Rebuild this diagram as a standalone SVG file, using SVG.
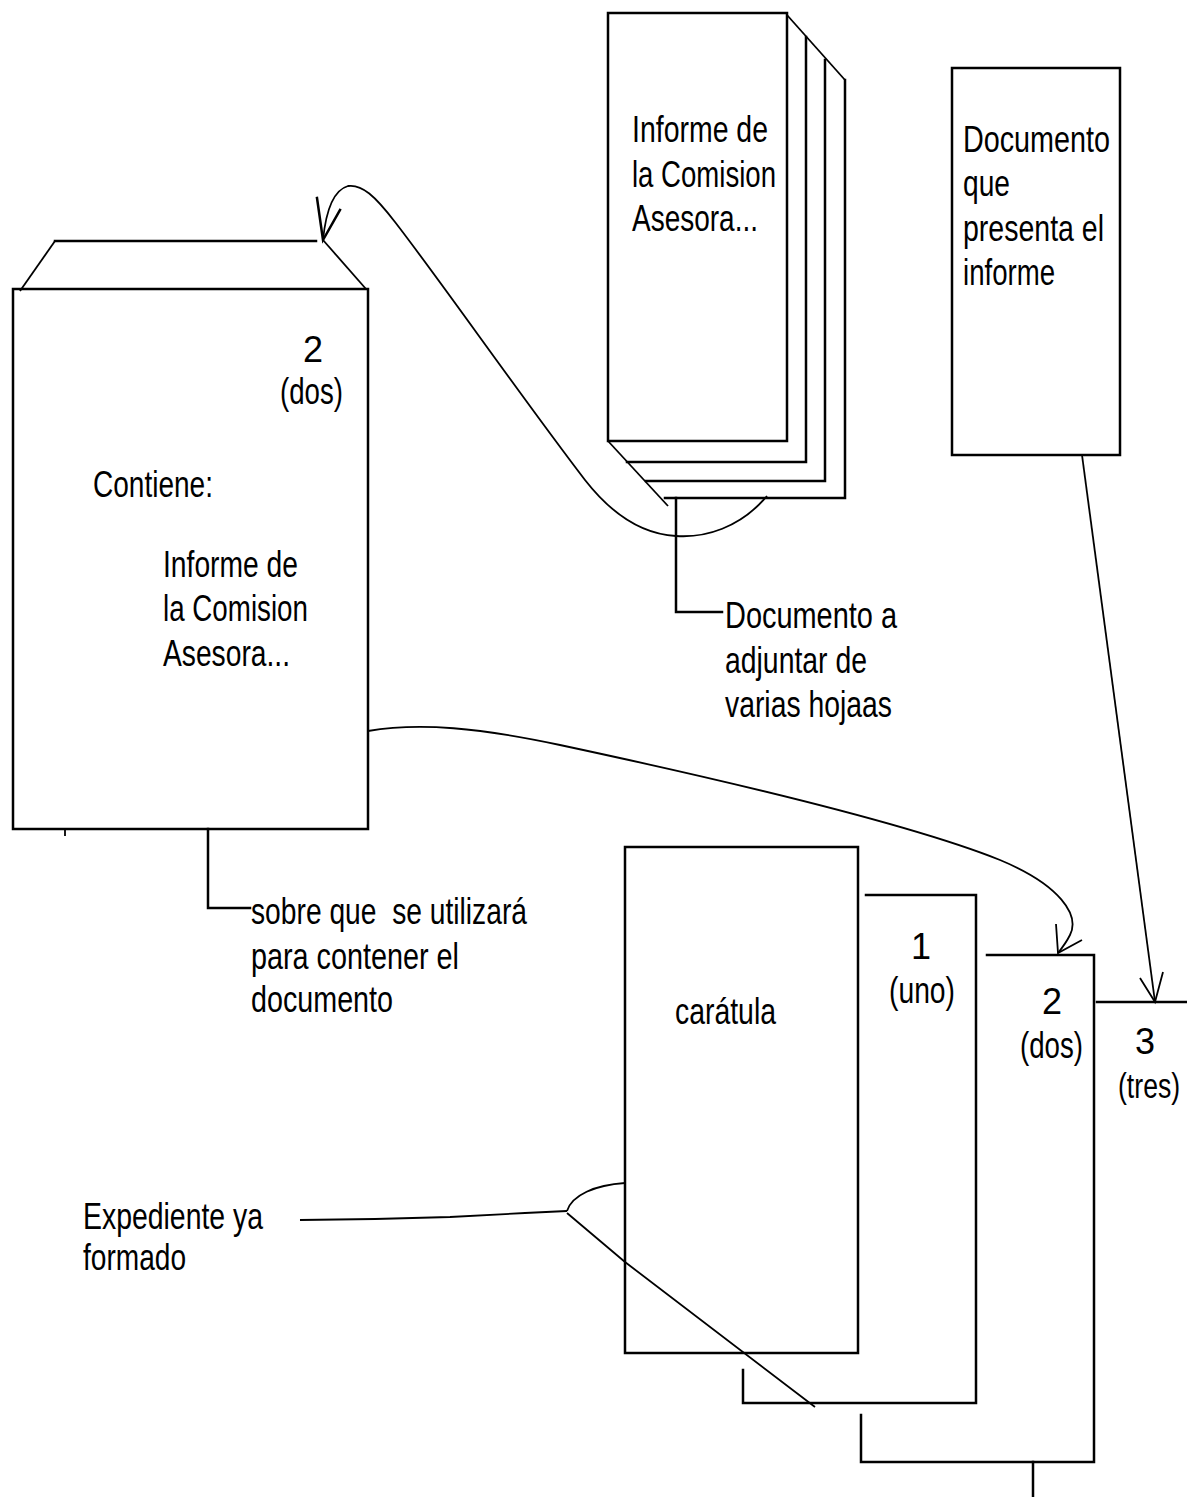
<svg xmlns="http://www.w3.org/2000/svg" width="1187" height="1497" viewBox="0 0 1187 1497">
<style>
.b{fill:none;stroke:#000;stroke-width:2.5;stroke-linecap:square}
.c{fill:none;stroke:#000;stroke-width:1.8}
.t{font-family:"Liberation Sans",Arial,sans-serif;font-size:36px;fill:#000}
</style>
<rect width="1187" height="1497" fill="#fff"/>
<g id="stack">
<path class="b" d="M608,13 H787 V441 H608 Z"/>
<path class="b" d="M806,37 V462 H627"/>
<path class="b" d="M825,60 V481 H646"/>
<path class="b" d="M845,80 V498 H665"/>
<path class="c" d="M787,15 L845,80"/>
<path class="c" d="M608,441 L668,506"/>
<text class="t" x="632" y="142" textLength="136" lengthAdjust="spacingAndGlyphs">Informe de</text>
<text class="t" x="632" y="187" textLength="144" lengthAdjust="spacingAndGlyphs">la Comision</text>
<text class="t" x="632" y="231" textLength="126" lengthAdjust="spacingAndGlyphs">Asesora...</text>
</g>
<g id="documento-informe">
<rect class="b" x="952" y="68" width="168" height="387"/>
<text class="t" x="963" y="152" textLength="147" lengthAdjust="spacingAndGlyphs">Documento</text>
<text class="t" x="963" y="196" textLength="47" lengthAdjust="spacingAndGlyphs">que</text>
<text class="t" x="963" y="241" textLength="141" lengthAdjust="spacingAndGlyphs">presenta el</text>
<text class="t" x="963" y="285" textLength="92" lengthAdjust="spacingAndGlyphs">informe</text>
</g>
<g id="sobre">
<rect class="b" x="13" y="289" width="355" height="540"/>
<path class="b" d="M55,241 H316"/>
<path class="c" d="M55,241 L20,291"/>
<path class="c" d="M323,240 L366,289"/>
<path class="c" d="M65,829 V836"/>
<text class="t" x="313" y="362" text-anchor="middle">2</text>
<text class="t" x="280" y="404" textLength="63" lengthAdjust="spacingAndGlyphs">(dos)</text>
<text class="t" x="93" y="497" textLength="120" lengthAdjust="spacingAndGlyphs">Contiene:</text>
<text class="t" x="163" y="577" textLength="135" lengthAdjust="spacingAndGlyphs">Informe de</text>
<text class="t" x="163" y="621" textLength="145" lengthAdjust="spacingAndGlyphs">la Comision</text>
<text class="t" x="163" y="666" textLength="127" lengthAdjust="spacingAndGlyphs">Asesora...</text>
</g>
<g id="label-adjuntar">
<text class="t" x="725" y="628" textLength="172" lengthAdjust="spacingAndGlyphs">Documento a</text>
<text class="t" x="725" y="673" textLength="142" lengthAdjust="spacingAndGlyphs">adjuntar de</text>
<text class="t" x="725" y="717" textLength="167" lengthAdjust="spacingAndGlyphs">varias hojaas</text>
</g>
<g id="label-sobre">
<text class="t" x="251" y="924" textLength="276" lengthAdjust="spacingAndGlyphs" xml:space="preserve">sobre que  se utilizará</text>
<text class="t" x="251" y="969" textLength="208" lengthAdjust="spacingAndGlyphs">para contener el</text>
<text class="t" x="251" y="1012" textLength="142" lengthAdjust="spacingAndGlyphs">documento</text>
</g>
<g id="caratula">
<rect class="b" x="625" y="847" width="233" height="506"/>
<text class="t" x="675" y="1024" textLength="101" lengthAdjust="spacingAndGlyphs">carátula</text>
</g>
<g id="hoja-1">
<path class="b" d="M866,895 H976 V1403 H743 V1370"/>
<text class="t" x="921" y="959" text-anchor="middle">1</text>
<text class="t" x="889" y="1003" textLength="66" lengthAdjust="spacingAndGlyphs">(uno)</text>
</g>
<g id="hoja-2">
<path class="b" d="M987,955 H1094 V1462 H861 V1415"/>
<path class="b" d="M1033,1462 V1497"/>
<text class="t" x="1052" y="1014" text-anchor="middle">2</text>
<text class="t" x="1020" y="1058" textLength="63" lengthAdjust="spacingAndGlyphs">(dos)</text>
</g>
<g id="hoja-3">
<path class="b" d="M1097,1002 H1187"/>
<text class="t" x="1145" y="1054" text-anchor="middle">3</text>
<text class="t" transform="translate(1118,1098) scale(0.74,1)">(tres)</text>
</g>
<g id="label-expediente">
<text class="t" x="83" y="1229" textLength="180" lengthAdjust="spacingAndGlyphs">Expediente ya</text>
<text class="t" x="83" y="1270" textLength="103" lengthAdjust="spacingAndGlyphs">formado</text>
</g>
<g id="connectors">
<path class="b" d="M676,498 V612 H722"/>
<path class="b" d="M208,829 V908 H250"/>
<path class="c" d="M767,496 C740,528 705,538 676,536 C640,534 610,512 585,480 C520,395 440,280 395,222 C375,196 362,184 348,186 C334,190 326,210 323,240"/>
<path class="b" d="M317,198 L323,240 L340,210"/>
<path class="c" d="M368,731 C420,722 480,728 560,745 C700,775 900,820 1000,860 C1060,885 1080,915 1070,935 C1066,943 1062,948 1058,953"/>
<path class="c" d="M1056,924 L1058,953 L1082,940"/>
<path class="c" d="M1082,455 L1155,1002"/>
<path class="c" d="M1140,978 L1155,1002 L1163,972"/>
<path class="c" d="M300,1220 L375,1219 L450,1217 L525,1213 L567,1211"/>
<path class="c" d="M567,1211 C572,1195 595,1185 625,1183"/>
<path class="c" d="M567,1213 L625,1262 L815,1407"/>
</g>
</svg>
